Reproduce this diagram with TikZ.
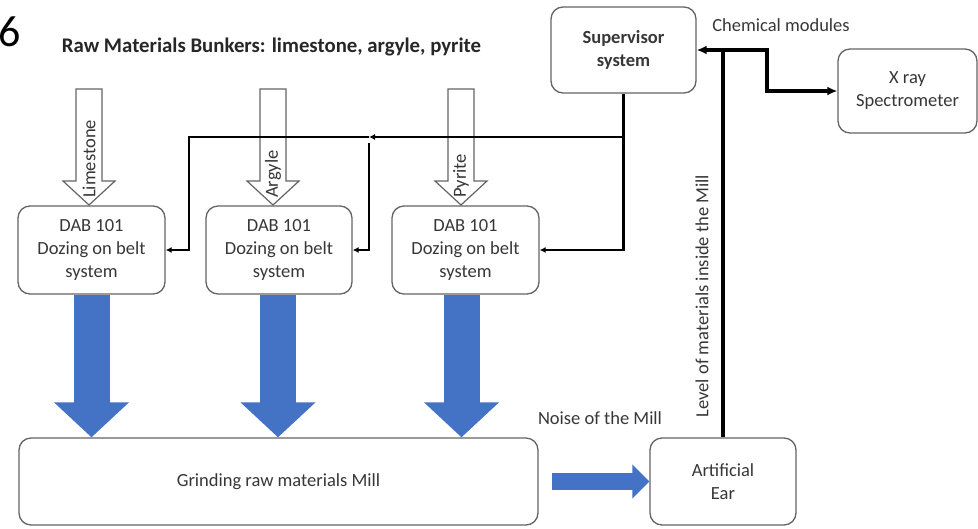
\documentclass[tikz,border=0pt]{standalone}
\usepackage{fontspec}
\setmainfont{Carlito}
\usetikzlibrary{arrows.meta,positioning,calc}
\definecolor{millblue}{RGB}{68,114,196}
\definecolor{boxgray}{RGB}{100,100,100}
\definecolor{txtgray}{RGB}{55,55,55}

\begin{document}
\begin{tikzpicture}[x=1pt,y=-1pt,
  >=Latex,
  unitbox/.style={draw=boxgray,line width=1.3pt,rounded corners=12pt,fill=white,
    align=center,text=txtgray,inner sep=2pt,
    font=\fontsize{18.5}{23}\selectfont},
  lbl/.style={text=txtgray,inner sep=1pt,font=\fontsize{18.5}{23}\selectfont},
  ctrl/.style={-{Latex[length=6pt,width=6pt]},line width=2.2pt},
  chem/.style={-{Latex[length=10pt,width=9pt]},line width=3.2pt},
  bunker/.style={draw=boxgray,line width=1.2pt,fill=white,line join=miter},
  feed/.style={draw=millblue,line width=36pt,-{Triangle[length=35pt 0 0,width=73pt 0 0]}},
  noise/.style={draw=millblue,line width=17pt,-{Triangle[length=17pt 0 0,width=33pt 0 0]}}
]
\useasboundingbox (0,0) rectangle (978,528);

% headings
\node[anchor=west,inner sep=0pt,font=\fontsize{44}{44}\selectfont] (fignum) at (-2,32) {6};
\node[lbl,text=black!85,font=\fontsize{20.8}{24}\selectfont\bfseries] (title) at (271.5,47)
  {Raw Materials Bunkers: limestone, argyle, pyrite};

% dosing units
\node[unitbox,minimum width=147pt,minimum height=88pt] (dab1) at (91.5,250)
  {DAB 101\\Dozing on belt\\system};
\node[unitbox,minimum width=146pt,minimum height=88pt] (dab2) at (279,250)
  {DAB 101\\Dozing on belt\\system};
\node[unitbox,minimum width=147pt,minimum height=88pt] (dab3) at (465.5,250)
  {DAB 101\\Dozing on belt\\system};

\node[unitbox,minimum width=519pt,minimum height=87pt] (mill) at (278.5,481.5)
  {Grinding raw materials Mill};
\node[unitbox,minimum width=146pt,minimum height=87pt] (ear) at (723,481.5)
  {Artificial\\Ear};
\node[unitbox,minimum width=145pt,minimum height=86pt,font=\fontsize{18.5}{23}\selectfont\bfseries]
  (sup) at (623.5,50) {Supervisor\\system};
\node[unitbox,minimum width=139pt,minimum height=84pt] (xray) at (907.5,91)
  {X ray\\Spectrometer};

% raw material inputs
\foreach \cx/\ore in {89/Limestone,273/Argyle,461/Pyrite}{
  \draw[bunker] (\cx-13,89) -- (\cx+13,89) -- (\cx+13,181) -- (\cx+26,181)
    -- (\cx,205) -- (\cx-26,181) -- (\cx-13,181) -- cycle;
  \node[lbl,rotate=90,anchor=west] (\ore) at (\cx,199) {\ore};
}

% material flow
\foreach \d/\dx in {dab1/0,dab2/-1,dab3/-4}
  \draw[feed] ([xshift=\dx pt]\d.south) -- ([xshift=\dx pt]\d.south |- mill.north);
\draw[noise] ($(mill.east)+(13,0)$) -- (ear.west);

% supervisor commands
\coordinate (tap) at (sup.south |- 0,137);
\coordinate (drop) at (369,137);
\coordinate (kneeA) at (189,137);
\coordinate (kneeB) at (369,143);
\draw[ctrl] (sup.south) |- (dab3.east);
\draw[ctrl] (tap) -- (drop);
\draw[ctrl] (drop) -- (kneeA) |- (dab1.east);
\draw[ctrl] (kneeB) |- (dab2.east);

% measurements
\coordinate (chemjoin) at (ear.north |- sup.east);
\coordinate (jog) at (767,50);
\draw[chem] (ear.north) -- (chemjoin) -- (sup.east);
\draw[chem] (chemjoin) -- (jog) |- (xray.west);

\node[lbl] (chemlbl) at (781,25) {Chemical modules};
\node[lbl] (noiselbl) at (600,418) {Noise of the Mill};
\node[lbl,rotate=90] (levellbl) at (702,296) {Level of materials inside the Mill};
\end{tikzpicture}
\end{document}
